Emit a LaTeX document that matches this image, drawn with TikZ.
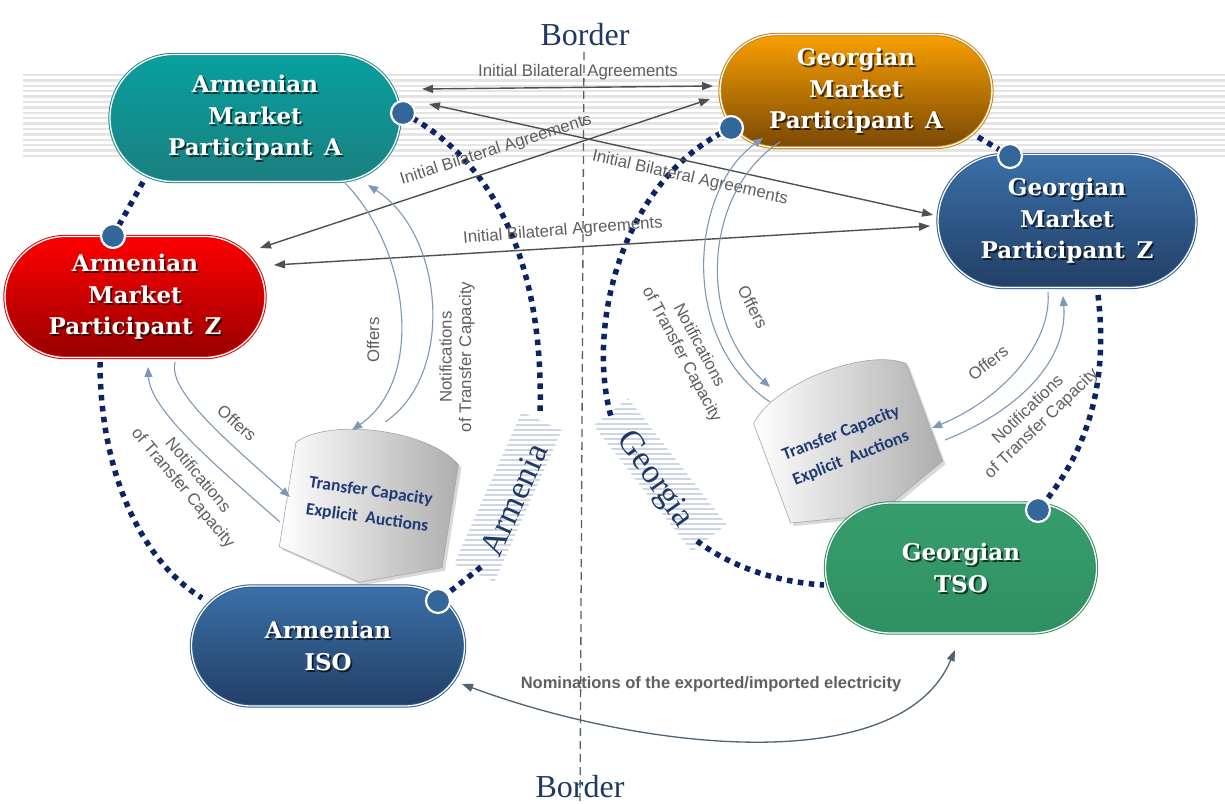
\documentclass[tikz,border=0pt]{standalone}
\usepackage{fontspec}
\setmainfont{Liberation Serif}
\newfontfamily\boxfont{DejaVu Serif}
\newfontfamily\lblfont{Liberation Sans}
\newfontfamily\cylfont{Carlito}
\usetikzlibrary{shapes.misc,arrows.meta,shadows,calc}

\definecolor{navyd}{HTML}{0A2464}
\definecolor{bordertxt}{HTML}{1F3864}
\definecolor{dotblue}{HTML}{336699}
\definecolor{bgstripe}{HTML}{E4E4E4}
\definecolor{bandstripe}{HTML}{CDD6E2}
\definecolor{arrblue}{HTML}{7D98B3}
\definecolor{arrgray}{HTML}{505050}
\definecolor{lblgray}{HTML}{5F5F5F}
\definecolor{cyltxt}{HTML}{1F3A75}
\definecolor{nomcol}{HTML}{4F6272}
\definecolor{tealT}{HTML}{07A09E}
\definecolor{tealB}{HTML}{1B7F80}
\definecolor{tealD}{HTML}{1E8C8C}
\definecolor{orT}{HTML}{F8A000}
\definecolor{orB}{HTML}{7A4805}
\definecolor{orD}{HTML}{C8820F}
\definecolor{blT}{HTML}{3A70A8}
\definecolor{blB}{HTML}{223F66}
\definecolor{blD}{HTML}{2F5D8F}
\definecolor{rdT}{HTML}{FF0000}
\definecolor{rdB}{HTML}{980000}
\definecolor{rdD}{HTML}{E00000}
\definecolor{grT}{HTML}{379D6D}
\definecolor{grB}{HTML}{2F9062}
\definecolor{grD}{HTML}{2E9060}

\tikzset{
  box/.style={rounded rectangle, inner sep=0pt, line width=1pt, double=white, double distance=1.3pt},
  boxAA/.style={box, draw=tealD, top color=tealT, bottom color=tealB},
  boxGA/.style={box, draw=orD, top color=orT, bottom color=orB},
  boxBL/.style={box, draw=blD, top color=blT, bottom color=blB},
  boxRD/.style={box, draw=rdD, top color=rdT, bottom color=rdB},
  boxGR/.style={box, draw=grD, top color=grT, bottom color=grB},
  boxtxt/.style={text=white, align=center, inner sep=0pt, font=\boxfont\bfseries\fontsize{23}{31.5}\selectfont},
  boxsh/.style={text=black, opacity=0.65, align=center, inner sep=0pt, font=\boxfont\bfseries\fontsize{23}{31.5}\selectfont},
  dot/.style={circle, fill=dotblue, draw=white, line width=2.2pt, minimum size=24pt, inner sep=0pt},
  dotline/.style={draw=navyd, line width=5.5pt, dash pattern=on 5.5pt off 5.5pt},
  bgline/.style={draw=bgstripe, line width=2.3pt},
  bandline/.style={draw=bandstripe, line width=2pt},
  borderline/.style={draw=nomcol, line width=1.3pt, dash pattern=on 8pt off 5pt},
  bordertext/.style={text=bordertxt, font=\fontsize{32}{36}\selectfont, inner sep=0pt},
  landlbl/.style={text=bordertxt, font=\fontsize{34}{38}\selectfont, inner sep=0pt},
  offarr/.style={draw=arrblue, line width=1.1pt, -{Triangle[length=10pt,width=8pt]}},
  ibarr/.style={draw=arrgray, line width=1.4pt, {Triangle[length=11pt,width=8pt]}-{Triangle[length=11pt,width=8pt]}},
  nomarr/.style={draw=nomcol, line width=1.3pt, {Triangle[length=11pt,width=8pt]}-{Triangle[length=11pt,width=8pt]}},
  lbl/.style={text=lblgray, inner sep=1pt, font=\lblfont\fontsize{16.8}{19.5}\selectfont},
  lbltwo/.style={lbl, align=center},
  nomlbl/.style={text=lblgray, inner sep=1pt, font=\lblfont\bfseries\fontsize{16.5}{18}\selectfont},
  cyl/.style={left color=white, right color=black!32, draw=black!35, line width=0.6pt,
     drop shadow={shadow xshift=3pt, shadow yshift=-3pt, opacity=0.3}},
  cyltext/.style={text=cyltxt, align=center, inner sep=0pt, font=\cylfont\bfseries\fontsize{17.5}{27}\selectfont},
}

\newcommand\mkbox[7]{%
  \node[#4, minimum width=#5pt, minimum height=#6pt] (#1) at (#2,-#3) {};
  \node[boxsh] at ($(#1.center)+(1.8,-1.8)$) {#7};
  \node[boxtxt] (#1t) at (#1.center) {#7};}

\begin{document}
\begin{tikzpicture}[x=1pt,y=1pt]
\useasboundingbox[fill=white] (0,0) rectangle (1225,-803);

% background stripes
\foreach \i in {0,...,15}{\draw[bgline] (23,{-75-5.4*\i}) -- (1225,{-75-5.4*\i});}

% border
\node[bordertext] (btop) at (585,-35) {Border};
\node[bordertext] (bbot) at (580,-787) {Border};
\coordinate (bt) at (584,-52);
\coordinate (bb) at (580,-803);
\draw[borderline] (bt) -- (bb);

% bands behind land labels
\begin{scope}
\clip[rotate around={66:(508,-497)}] (425,-519) rectangle (591,-475);
\foreach \i in {0,...,36}{\draw[bandline] (430,{-410-5*\i}) -- (590,{-410-5*\i});}
\end{scope}
\begin{scope}
\clip[rotate around={-52:(660,-475)}] (580,-497) rectangle (740,-453);
\foreach \i in {0,...,34}{\draw[bandline] (585,{-394-5*\i}) -- (740,{-394-5*\i});}
\end{scope}
\node[landlbl, rotate=66] (armlbl) at (514,-500) {Armenia};
\node[landlbl, rotate=-55] (geolbl) at (654,-480) {Georgia};

% dot positions
\coordinate (pAA) at (403,-113);
\coordinate (pAZ) at (113,-236);
\coordinate (pGA) at (731,-128);
\coordinate (pGZ) at (1010,-156);
\coordinate (pISO) at (438,-601);
\coordinate (pTSO) at (1038,-510);

% dotted connectors
\coordinate (aaBL) at (143,-182);
\coordinate (arTop) at (540,-416);
\coordinate (arBot) at (481,-567);
\coordinate (azB) at (100,-362);
\coordinate (isoL) at (202,-598);
\coordinate (geTop) at (612,-420);
\coordinate (geBot) at (697,-541);
\coordinate (tsoL) at (824,-585);
\coordinate (gaR) at (978,-137);
\coordinate (gzB) at (1098,-295);
\draw[dotline] (aaBL) -- (pAZ);
\draw[dotline] (pAA) .. controls (485,-155) and (545,-250) .. (arTop);
\draw[dotline] (arBot) -- (pISO);
\draw[dotline] (azB) .. controls (100,-470) and (140,-560) .. (isoL);
\draw[dotline] (pGA) .. controls (620,-180) and (585,-330) .. (geTop);
\draw[dotline] (geBot) .. controls (730,-566) and (775,-582) .. (tsoL);
\draw[dotline] (gaR) -- (pGZ);
\draw[dotline] (gzB) .. controls (1108,-380) and (1090,-450) .. (pTSO);

% cylinders
\begin{scope}[shift={(370,-505)}, rotate=-8]
\path[cyl] (-82,52) .. controls (-50,82) and (50,82) .. (82,52) -- (80,-52) -- (0,-78) -- (-84,-54) -- cycle;
\end{scope}
\begin{scope}[shift={(849,-442)}, rotate=21.5]
\path[cyl] (-82,52) .. controls (-50,82) and (50,82) .. (82,52) -- (80,-52) -- (0,-78) -- (-84,-54) -- cycle;
\end{scope}
\node[cyltext, rotate=-8] (cylA) at (369,-505) {Transfer Capacity\\Explicit\ \ Auctions};
\node[cyltext, rotate=21.5] (cylG) at (846,-446) {Transfer Capacity\\Explicit\ \ Auctions};

% boxes
\mkbox{aa}{255}{118}{boxAA}{290}{127}{Armenian\\Market\\Participant\ \,A}
\mkbox{ga}{856}{91}{boxGA}{272}{113}{Georgian\\Market\\Participant\ \,A}
\mkbox{gz}{1067}{221}{boxBL}{258}{133}{Georgian\\Market\\Participant\ \,Z}
\mkbox{az}{135}{297}{boxRD}{260}{121}{Armenian\\Market\\Participant\ \,Z}
\mkbox{iso}{328}{646}{boxBL}{273}{120}{Armenian\\ISO}
\mkbox{tso}{961}{568}{boxGR}{271}{130}{Georgian\\TSO}

% dots
\node[dot] (dAA) at (pAA) {};
\node[dot] (dAZ) at (pAZ) {};
\node[dot] (dGA) at (pGA) {};
\node[dot] (dGZ) at (pGZ) {};
\node[dot] (dISO) at (pISO) {};
\node[dot] (dTSO) at (pTSO) {};

% initial bilateral agreements
\coordinate (ib1a) at (422,-89);  \coordinate (ib1b) at (713,-86);
\coordinate (ib2a) at (429,-104); \coordinate (ib2b) at (933,-215);
\coordinate (ib3a) at (260,-248); \coordinate (ib3b) at (710,-99);
\coordinate (ib4a) at (274,-265); \coordinate (ib4b) at (930,-226);
\draw[ibarr] (ib1a) -- (ib1b);
\draw[ibarr] (ib2a) -- (ib2b);
\draw[ibarr] (ib3a) -- (ib3b);
\draw[ibarr] (ib4a) -- (ib4b);
\node[lbl] (l1) at (578,-72) {Initial Bilateral Agreements};
\node[lbl, rotate=-12.5] (l2) at (690,-178) {Initial Bilateral Agreements};
\node[lbl, rotate=17.7] (l3) at (496,-150) {Initial Bilateral Agreements};
\node[lbl, rotate=4.5] (l4) at (563,-231) {Initial Bilateral Agreements};

% offers / notifications
\coordinate (aaO) at (345,-183);  \coordinate (cAt1) at (352,-430);
\coordinate (cAt2) at (385,-422); \coordinate (aaN) at (368,-185);
\draw[offarr] (aaO) .. controls (410,-250) and (425,-380) .. (cAt1);
\draw[offarr] (cAt2) .. controls (455,-375) and (445,-235) .. (aaN);
\coordinate (azO) at (175,-362);  \coordinate (cAl1) at (290,-497);
\coordinate (cAl2) at (280,-522); \coordinate (azN) at (148,-367);
\draw[offarr] (azO) .. controls (168,-390) and (220,-435) .. (cAl1);
\draw[offarr] (cAl2) .. controls (215,-465) and (150,-410) .. (azN);
\coordinate (gaO) at (780,-142);  \coordinate (cGt1) at (770,-387);
\coordinate (cGt2) at (770,-402); \coordinate (gaN) at (763,-138);
\draw[offarr] (gaO) .. controls (705,-190) and (695,-320) .. (cGt1);
\draw[offarr] (cGt2) .. controls (678,-340) and (690,-190) .. (gaN);
\coordinate (gzO) at (1048,-292); \coordinate (cGr1) at (932,-428);
\coordinate (cGr2) at (945,-440); \coordinate (gzN) at (1063,-296);
\draw[offarr] (gzO) .. controls (1052,-345) and (1000,-400) .. (cGr1);
\draw[offarr] (cGr2) .. controls (1020,-410) and (1068,-360) .. (gzN);

\node[lbl, rotate=90] (oAA) at (373,-340) {Offers};
\node[lbltwo, rotate=90] (nAA) at (457,-357) {Notifications\\of Transfer Capacity};
\node[lbl, rotate=-41] (oAZ) at (237,-423) {Offers};
\node[lbltwo, rotate=-50] (nAZ) at (190,-482) {Notifications\\of Transfer Capacity};
\node[lbl, rotate=-62] (oGA) at (753,-307) {Offers};
\node[lbltwo, rotate=-62] (nGA) at (690,-350) {Notifications\\of Transfer Capacity};
\node[lbl, rotate=38] (oGZ) at (988,-363) {Offers};
\node[lbltwo, rotate=44] (nGZ) at (1035,-417) {Notifications\\of Transfer Capacity};

% nominations
\coordinate (isoR) at (462,-684);
\coordinate (tsoB) at (955,-650);
\draw[nomarr] (isoR) .. controls (640,-750) and (900,-780) .. (tsoB);
\node[nomlbl] (nom) at (711,-684) {Nominations of the exported/imported electricity};
\end{tikzpicture}
\end{document}
